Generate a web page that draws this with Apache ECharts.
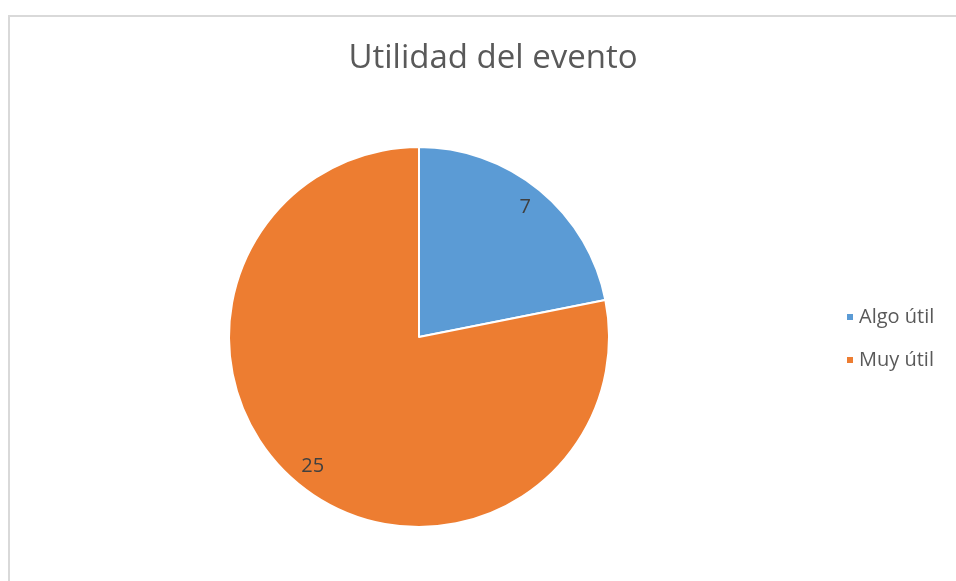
<!DOCTYPE html>
<html>
<head>
<meta charset="utf-8">
<style>
	html,body{ margin:0; padding:0; background:#fff;}
	#frame{ position:absolute; left:8px; top:15px; width:960px; height:600px; border:2px solid #d9d9d9; box-sizing:border-box;}
	#mainBox{ position:absolute; left:0; top:0; width:956px; height:581px;}
</style>
</head>
<body>
<div id="frame"></div>
<div id="mainBox"></div>
<script src="https://cdn.jsdelivr.net/npm/echarts@6/dist/echarts.min.js"></script>
<script>
var titleText='Utilidad del evento';
var categories=['Algo útil','Muy útil'];
var values=[7,25];
var colors=['#5b9bd5','#ed7d31'];

var pieData=[];
for(var i=0;i<categories.length;i++){
	pieData.push({name:categories[i],value:values[i]});
}

var myChart=echarts.init(document.getElementById('mainBox'));
var font='"Open Sans", sans-serif';
myChart.setOption({
	color:colors,
	animation:false,
	title:{
		text:titleText,
		left:488,
		top:37,
		textAlign:'center',
		textStyle:{color:'#595959',fontSize:33,fontWeight:'normal',fontFamily:font}
	},
	legend:{
		orient:'vertical',
		left:840,
		top:302,
		itemWidth:8,
		itemHeight:8,
		itemGap:23,
		icon:'rect',
		textStyle:{color:'#595959',fontSize:20,fontFamily:font}
	},
	series:[{
		type:'pie',
		center:[419,337],
		radius:[0,190],
		startAngle:90,
		clockwise:true,
		data:pieData,
		label:{show:false},
		labelLine:{show:false},
		itemStyle:{borderColor:'#fff',borderWidth:2},
		emphasis:{disabled:true}
	},{
		// transparent ring only used to place the labels near the rim
		type:'pie',
		center:[419,337],
		radius:[139,190],
		startAngle:90,
		clockwise:true,
		silent:true,
		legendHoverLink:false,
		data:pieData,
		itemStyle:{color:'transparent',borderWidth:0},
		label:{show:true,position:'inside',formatter:'{c}',color:'#404040',fontSize:20,fontFamily:font},
		labelLine:{show:false},
		emphasis:{disabled:true}
	}]
});
</script>
</body>
</html>
